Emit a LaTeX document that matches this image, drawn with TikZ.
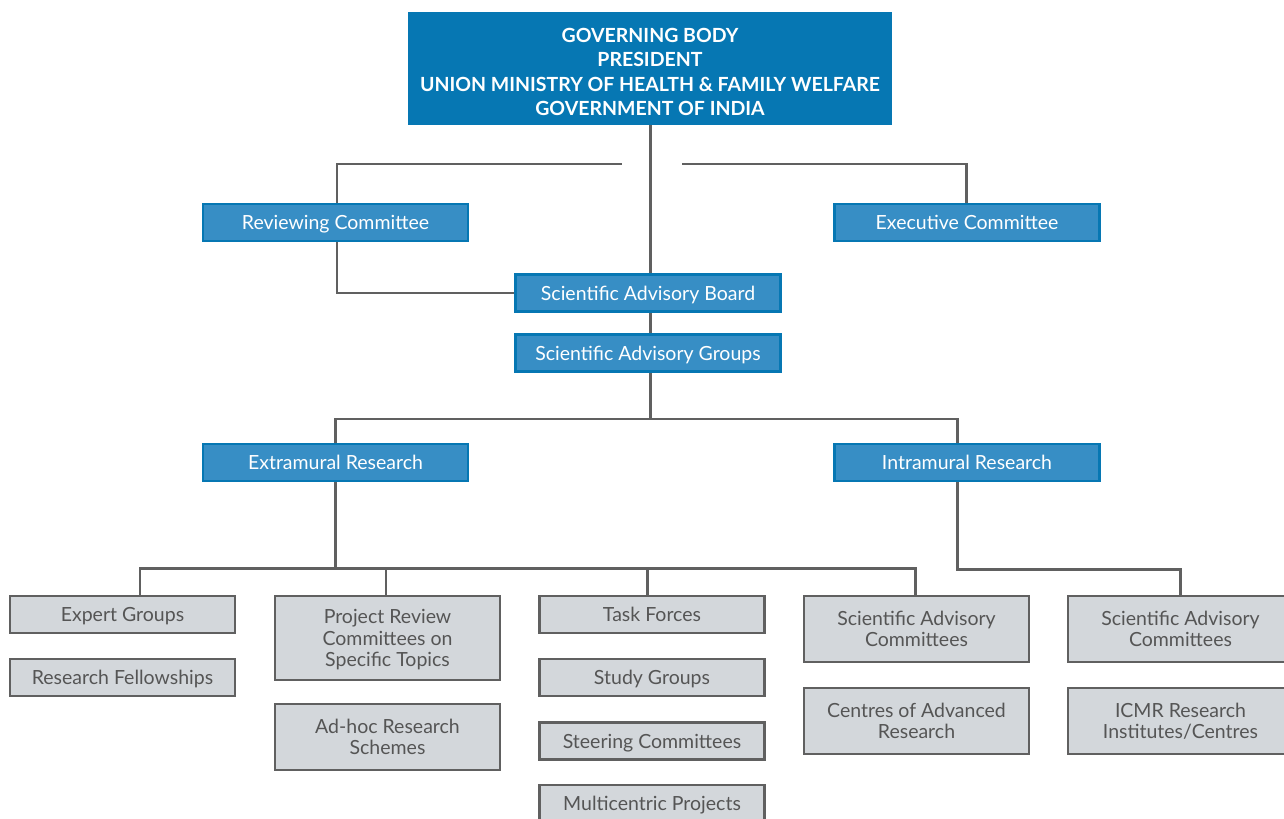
\documentclass[tikz,border=0pt]{standalone}
\usepackage{fontspec}
\setmainfont{Lato}
\definecolor{govblue}{HTML}{0677B3}
\definecolor{boxblue}{HTML}{378EC5}
\definecolor{boxgray}{HTML}{D3D7DB}
\definecolor{edgegray}{HTML}{606060}
\definecolor{textgray}{HTML}{555555}
\begin{document}
\begin{tikzpicture}[x=0.02cm, y=-0.02cm,
    govbox/.style={fill=govblue, text=white, font=\fontsize{11.1}{14}\selectfont\bfseries,
      align=center, minimum width=9.68cm, minimum height=2.26cm, inner sep=0pt, text height=54pt},
    bluebox/.style={fill=boxblue, draw=govblue, line width=1.2pt, text=white, text depth=0pt,
      font=\fontsize{11.1}{12}\selectfont, minimum width=5.3cm, minimum height=0.74cm, inner sep=0pt},
    graybox/.style={fill=boxgray, draw=edgegray, line width=1.6pt, text=textgray, text depth=0pt,
      font=\fontsize{11.1}{12.2}\selectfont, align=center, minimum width=4.5cm, inner sep=0pt},
    link/.style={draw=edgegray, line width=1.7pt}]

    \useasboundingbox (0,0) rectangle (1284,818);

    % Cuerpo de gobierno
    \node[govbox] (gb) at (650,68.5) {GOVERNING BODY\\PRESIDENT\\UNION MINISTRY OF HEALTH \& FAMILY WELFARE\\GOVERNMENT OF INDIA};

    % Comites y juntas
    \node[bluebox] (rev) at (335.5,222.5) {Reviewing Committee};
    \node[bluebox] (exe) at (967,222.5) {Executive Committee};
    \node[bluebox] (sab) at (648,293) {Scientific Advisory Board};
    \node[bluebox] (sag) at (648,353) {Scientific Advisory Groups};
    \node[bluebox] (ext) at (335.5,462.5) {Extramural Research};
    \node[bluebox] (int) at (967,462.5) {Intramural Research};

    % Columna 1
    \node[graybox, minimum height=0.74cm] (expert) at (122.5,614.5) {Expert Groups};
    \node[graybox, minimum height=0.74cm] (fellow) at (122.5,677.5) {Research Fellowships};

    % Columna 2
    \node[graybox, minimum height=1.68cm] (prc) at (387.5,638) {Project Review\\Committees on\\Specific Topics};
    \node[graybox, minimum height=1.32cm] (adhoc) at (387.5,737) {Ad-hoc Research\\Schemes};

    % Columna 3
    \node[graybox, minimum height=0.74cm] (task) at (652,614.5) {Task Forces};
    \node[graybox, minimum height=0.74cm] (study) at (652,677.5) {Study Groups};
    \node[graybox, minimum height=0.74cm] (steer) at (652,741) {Steering Committees};
    \node[graybox, minimum height=0.74cm] (multi) at (652,803.5) {Multicentric Projects};

    % Columna 4
    \node[graybox, minimum height=1.32cm] (sacext) at (916.5,629) {Scientific Advisory\\Committees};
    \node[graybox, minimum height=1.32cm] (cadv) at (916.5,721) {Centres of Advanced\\Research};

    % Columna 5
    \node[graybox, minimum height=1.32cm] (sacint) at (1180.5,629) {Scientific Advisory\\Committees};
    \node[graybox, minimum height=1.32cm] (icmr) at (1180.5,721) {ICMR Research\\Institutes/Centres};

    % Conectores superiores
    \coordinate (cl) at (622,164);
    \coordinate (cr) at (682,164);
    \draw[link] (gb.south) -- (gb.south |- sab.north);
    \draw[link] ([xshift=0.03cm]rev.north) |- (cl);
    \draw[link] ([xshift=-0.02cm]exe.north) |- (cr);
    \draw[link] ([xshift=0.03cm]rev.south) |- (sab.west);
    \draw[link] ([xshift=0.04cm]sab.south) -- ([xshift=0.04cm]sag.north);

    % Division extramural / intramural
    \coordinate (split) at (650,419);
    \draw[link] (sag.south -| split) -- (split);
    \draw[link] (ext.north) |- (split) -| ([xshift=-0.2cm]int.north);

    % Ramas inferiores
    \coordinate (eb) at (335.5,568);
    \draw[link] (ext.south) -- (eb);
    \draw[link] ([xshift=0.35cm]expert.north) |- (eb) -| ([xshift=-0.03cm]sacext.north);
    \draw[link] ([xshift=-0.03cm]prc.north) -- ([xshift=-0.03cm]prc.north |- eb);
    \draw[link] ([xshift=-0.1cm]task.north) -- ([xshift=-0.1cm]task.north |- eb);
    \draw[link] ([xshift=-0.2cm]int.south) -- ++(0,87) -| (sacint.north);

\end{tikzpicture}
\end{document}
